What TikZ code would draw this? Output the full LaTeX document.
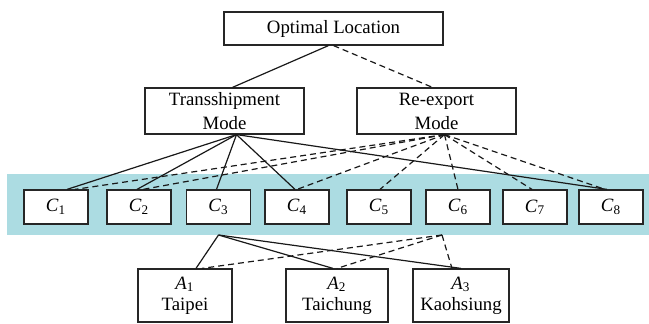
\documentclass[tikz,border=0pt]{standalone}
\usepackage{fontspec}
\setmainfont{Liberation Serif}
\usepackage{tikz}
\usetikzlibrary{calc,positioning}
\definecolor{bandcyan}{RGB}{172,220,226}
\tikzset{
	hierarchy/.style={
		x=0.5pt, y=-0.5pt,
		font=\fontsize{9.4}{11}\selectfont,
		every node/.style={inner sep=0pt, align=center}
		},
	box/.style={draw=black!85, fill=white, line width=0.6pt},
	topbox/.style={box, minimum width=109.5pt, minimum height=16.5pt},
	modebox/.style={box, minimum width=79.5pt, minimum height=23pt,
		font=\fontsize{9.4}{12}\selectfont},
	critbox/.style={box, minimum width=32pt, minimum height=17pt},
	altbox/.style={box, minimum height=26.5pt,
		font=\fontsize{9.4}{10.5}\selectfont},
	band/.style={fill=bandcyan, outer sep=0pt, minimum width=321pt, minimum height=30.5pt},
	trans/.style={draw=black!90, line width=0.6pt},
	reexp/.style={draw=black!90, line width=0.6pt, dash pattern=on 3pt off 2pt}
}
\newcommand{\critn}[1]{\textit{C}\textsubscript{#1}}
\newcommand{\altn}[1]{\textit{A}\textsubscript{#1}}

\begin{document}
\begin{tikzpicture}[hierarchy]
  \useasboundingbox (0,0) rectangle (649,324);
  \node[band] (band) at (328,204.5) {};
  \node[topbox] (OL) at (333.5,28.5) {Optimal Location};
  \node[modebox] (T) at (224.5,111) {Transshipment\\Mode};
  \node[modebox] (R) at (436.5,111) {Re-export\\Mode};
  \foreach \i/\x in {1/56,2/139,3/218.5,4/297,5/379,6/458,7/535,8/611}
    \node[critbox] (C\i) at (\x,207) {\critn{\i}};
  \node[altbox, minimum width=47pt] (A1) at (185,295.5) {\altn{1}\\Taipei};
  \node[altbox, minimum width=51pt] (A2) at (337,295.5) {\altn{2}\\Taichung};
  \node[altbox, minimum width=48pt] (A3) at (461,295.5) {\altn{3}\\Kaohsiung};
  \coordinate (C3low) at (C3 |- band.south);
  \coordinate (C6low) at ($(C6 |- band.south)+(-16,0)$);
  \draw[trans] ([xshift=-2.5pt]OL.south) -- ([xshift=4pt]T.north);
  \draw[reexp] (OL.south) -- ([xshift=-2pt]R.north);
  \foreach \c/\s in {1/5.5pt,2/-1pt,3/-1pt,4/-1pt,8/-2pt}
    \draw[trans] ([xshift=6pt]T.south) -- ([xshift=\s]C\c.north);
  \foreach \c/\s in {1/9.5pt,2/2pt,4/0pt,5/0.5pt,6/0pt,7/-1.5pt,8/-3pt}
    \draw[reexp] ([xshift=4pt]R.south) -- ([xshift=\s]C\c.north);
  \draw[trans] (C3low) -- ([xshift=5.5pt]A1.north);
  \draw[trans] (C3low) -- ([xshift=-2pt]A2.north);
  \draw[trans] (C3low) -- (A3.north);
  \draw[reexp] (C6low) -- ([xshift=8.5pt]A1.north);
  \draw[reexp] (C6low) -- (A2.north);
  \draw[reexp] (C6low) -- ([xshift=-4.5pt]A3.north);
\end{tikzpicture}
\end{document}
